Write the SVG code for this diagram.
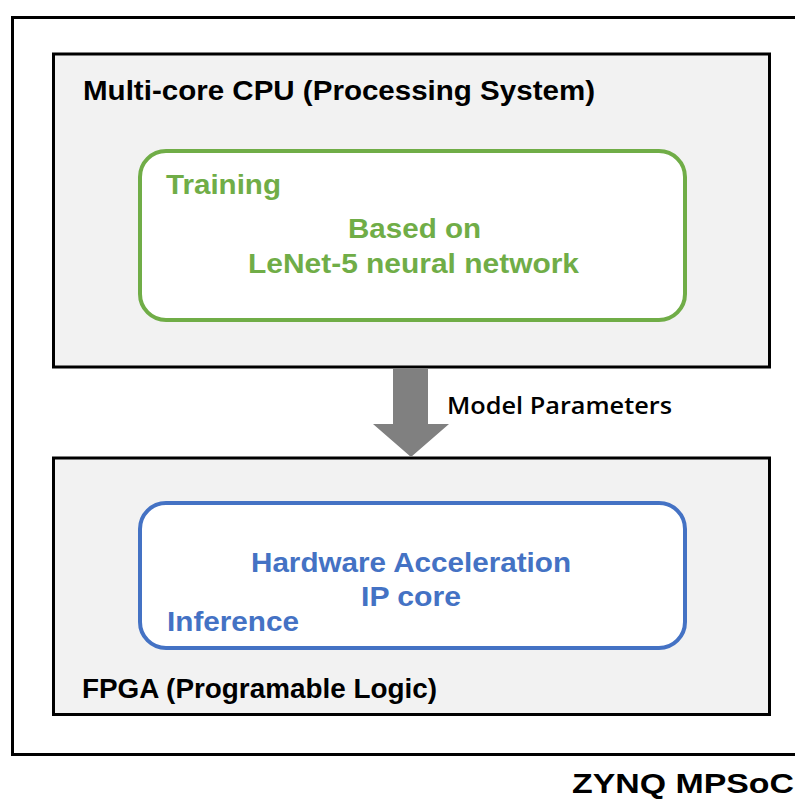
<svg xmlns="http://www.w3.org/2000/svg" width="795" height="802" viewBox="0 0 795 802">
  <style>
    .frame { fill: #ffffff; stroke: #000000; stroke-width: 3; }
    .block { fill: #f2f2f2; stroke: #000000; stroke-width: 3; }
    .lbl { font-family: "Liberation Sans", Arial, sans-serif; font-weight: bold; font-size: 28px; }
    .dark { fill: #000000; }
    .green { fill: #70ad47; }
    .blue { fill: #4472c4; }
    .task-green { fill: #ffffff; stroke: #70ad47; stroke-width: 4; }
    .task-blue { fill: #ffffff; stroke: #4472c4; stroke-width: 4; }
    .flow { font-family: "Open Sans", "Noto Sans", sans-serif; font-weight: 600; font-size: 23px; fill: #000000; }
  </style>

  <rect x="0" y="0" width="795" height="802" fill="#ffffff"/>

  <!-- SoC outline (open on the right edge) -->
  <g id="zynq">
    <rect class="frame" x="12.5" y="17.5" width="800" height="737"/>
    <text class="lbl dark" x="572" y="793" textLength="222" lengthAdjust="spacingAndGlyphs">ZYNQ MPSoC</text>
  </g>

  <!-- Processing system -->
  <g id="cpu">
    <rect class="block" x="53.5" y="54" width="716" height="313"/>
    <text class="lbl dark" x="83" y="100" textLength="512" lengthAdjust="spacingAndGlyphs">Multi-core CPU (Processing System)</text>
  </g>

  <g id="training">
    <rect class="task-green" x="140" y="151" width="545" height="169" rx="26" ry="26"/>
    <text class="lbl green" x="166" y="194" textLength="115" lengthAdjust="spacingAndGlyphs">Training</text>
    <text class="lbl green" x="348" y="238" textLength="133" lengthAdjust="spacingAndGlyphs">Based on</text>
    <text class="lbl green" x="248" y="273" textLength="331" lengthAdjust="spacingAndGlyphs">LeNet-5 neural network</text>
  </g>

  <!-- Programmable logic -->
  <g id="fpga">
    <rect class="block" x="53.5" y="458" width="716" height="256.5"/>
    <text class="lbl dark" x="82" y="698" textLength="355" lengthAdjust="spacingAndGlyphs">FPGA (Programable Logic)</text>
  </g>

  <g id="inference">
    <rect class="task-blue" x="140" y="503" width="545" height="145" rx="26" ry="26"/>
    <text class="lbl blue" x="251" y="572" textLength="320" lengthAdjust="spacingAndGlyphs">Hardware Acceleration</text>
    <text class="lbl blue" x="361" y="606" textLength="100" lengthAdjust="spacingAndGlyphs">IP core</text>
    <text class="lbl blue" x="167" y="631" textLength="132" lengthAdjust="spacingAndGlyphs">Inference</text>
  </g>

  <!-- Parameter transfer -->
  <g id="connectors">
    <polygon points="393,368.5 428,368.5 428,424 449,424 411,457 373,424 393,424" fill="#808080"/>
    <text class="flow" x="447" y="414" textLength="225" lengthAdjust="spacingAndGlyphs">Model Parameters</text>
  </g>
</svg>
